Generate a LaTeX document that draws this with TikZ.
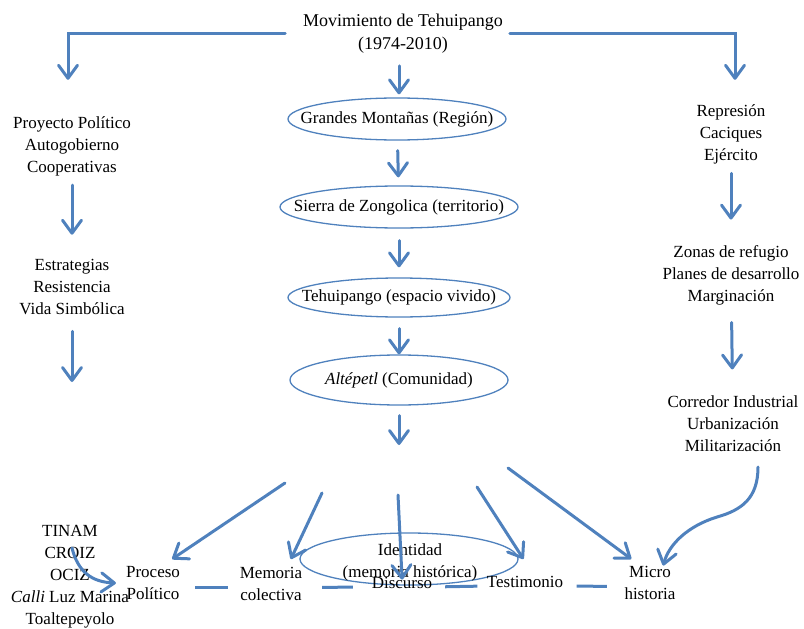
\documentclass[tikz,border=0pt]{standalone}
\usepackage{fontspec}
\setmainfont{Liberation Serif}
\usetikzlibrary{arrows.meta,shapes.geometric,calc}
\definecolor{ob}{RGB}{79,129,189}
\begin{document}
\begin{tikzpicture}[x=1pt,y=-1pt,
  txt/.style={inner sep=0pt, align=center, font=\fontsize{17}{22}\selectfont, text=black},
  ttl/.style={txt, font=\fontsize{18}{23}\selectfont},
  arr/.style={draw=ob, line width=3pt, line cap=round, -{Straight Barb[length=13pt,width=19pt,round]}},
  dsh/.style={draw=ob, line width=3pt},
  ell/.style={draw=ob, line width=1.3pt, ellipse, inner sep=0pt, font=\fontsize{17}{22}\selectfont, text=black},
]
\useasboundingbox (0,0) rectangle (804,629);

% title
\node[ttl] (title) at (403,33.5) {Movimiento de Tehuipango\\(1974-2010)};

% left column
\node[txt] (proy) at (72,146.7) {Proyecto Político\\Autogobierno\\Cooperativas};
\node[txt] (estr) at (72,286.7) {Estrategias\\Resistencia\\Vida Simbólica};
\coordinate (lend) at (72,382);

% right column
\node[txt] (rep) at (731,134.7) {Represión\\Caciques\\Ejército};
\node[txt] (zon) at (731,275) {Zonas de refugio\\Planes de desarrollo\\Marginación};
\node[txt] (corr) at (733,423.3) {Corredor Industrial\\Urbanización\\Militarización};

% central ellipses
\node[ell, minimum width=218pt, minimum height=42pt] (ell1) at (397,119) {\makebox[0pt]{Grandes Montañas (Región)}};
\node[ell, minimum width=238pt, minimum height=42pt] (ell2) at (399,207) {\makebox[0pt]{Sierra de Zongolica (territorio)}};
\node[ell, minimum width=222pt, minimum height=39pt] (ell3) at (399,297.5) {\makebox[0pt]{Tehuipango (espacio vivido)}};
\node[ell, minimum width=218pt, minimum height=50pt] (ell4) at (399,380) {\makebox[0pt]{\textit{Altépetl} (Comunidad)}};
\coordinate (cend) at (399,445);

% bottom
\node[ell, minimum width=218pt, minimum height=52pt] (iden) at (409,559) {};
\node[txt] (identxt) at (410,562.5) {Identidad\\(memoria histórica)};
\node[txt] (tinam) at (70,577) {TINAM\\CROIZ\\OCIZ\\\textit{Calli} Luz Marina\\Toaltepeyolo};
\node[txt] (proc) at (153,583.5) {Proceso\\Político};
\node[txt] (mem) at (271,583.5) {Memoria\\colectiva};
\node[txt] (disc) at (402,583) {Discurso};
\node[txt] (test) at (525,582) {Testimonio};
\node[txt] (micro) at (650,582.5) {Micro\\historia};

% top connectors
\draw[arr, shorten <=17.7pt, shorten >=37pt] (title.west) -| ([xshift=-4pt]proy.north);
\draw[arr, shorten <=6.7pt, shorten >=25pt] (title.east) -| ([xshift=4pt]rep.north);
\draw[arr, shorten <=12.4pt, shorten >=3pt] (title.south -| ell2) -- (ell1.north -| ell2);

% left / right column arrows
\draw[arr, shorten <=8.5pt, shorten >=24pt] (proy) -- (estr);
\draw[arr, shorten <=16.6pt] (estr) -- (lend);
\draw[arr, shorten <=8.7pt, shorten >=25.4pt] (rep) -- (zon);
\draw[arr, shorten <=17.4pt, shorten >=25.7pt] (zon) -- (corr);

% central arrows
\draw[arr, shorten <=10pt, shorten >=8pt] (ell1) -- (ell2);
\draw[arr, shorten <=12pt, shorten >=10pt] (ell2) -- (ell3);
\draw[arr, shorten <=11pt, shorten >=0pt] (ell3) -- (ell4);
\draw[arr, shorten <=10pt] (ell4) -- (cend);

% fan arrows
\coordinate (f1) at (285,483);
\coordinate (f2) at (322,493);
\coordinate (f3) at (398,495);
\coordinate (f4) at (477,487);
\coordinate (f5) at (508,468);
\draw[arr, shorten >=13.6pt] (f1) -- (proc.65);
\draw[arr, shorten >=8.3pt] (f2) -- (mem.46);
\draw[arr, shorten >=-2.5pt] (f3) -- (disc.north);
\draw[arr, shorten >=20.3pt] (f4) -- (test.32);
\draw[arr, shorten >=11.1pt] (f5) -- (micro.120);

% curved arrows
\coordinate (cs) at (758,467);
\draw[arr, shorten >=0pt] (cs) .. controls (758,498) and (742,510) .. (717,517) .. controls (688,526) and (669,544) .. (micro.52);
\coordinate (ts) at (72,548);
\draw[arr, shorten >=10pt] (ts) .. controls (78,572) and (92,582) .. (proc.west);

% dashed links
\draw[dsh, shorten <=15pt, shorten >=11.8pt] ([yshift=-4pt]proc.east) -- ([yshift=-4pt]mem.west);
\draw[dsh, shorten <=19.8pt, shorten >=18.8pt] ([yshift=-4pt]mem.east) -- ([yshift=-4pt]disc.west);
\draw[dsh, shorten <=12.8pt, shorten >=9.3pt] ([yshift=-4pt]disc.east) -- ([yshift=-4pt]test.west);
\draw[dsh, shorten <=13.3pt, shorten >=17.5pt] ([yshift=-4pt]test.east) -- ([yshift=-4pt]micro.west);
\end{tikzpicture}
\end{document}
